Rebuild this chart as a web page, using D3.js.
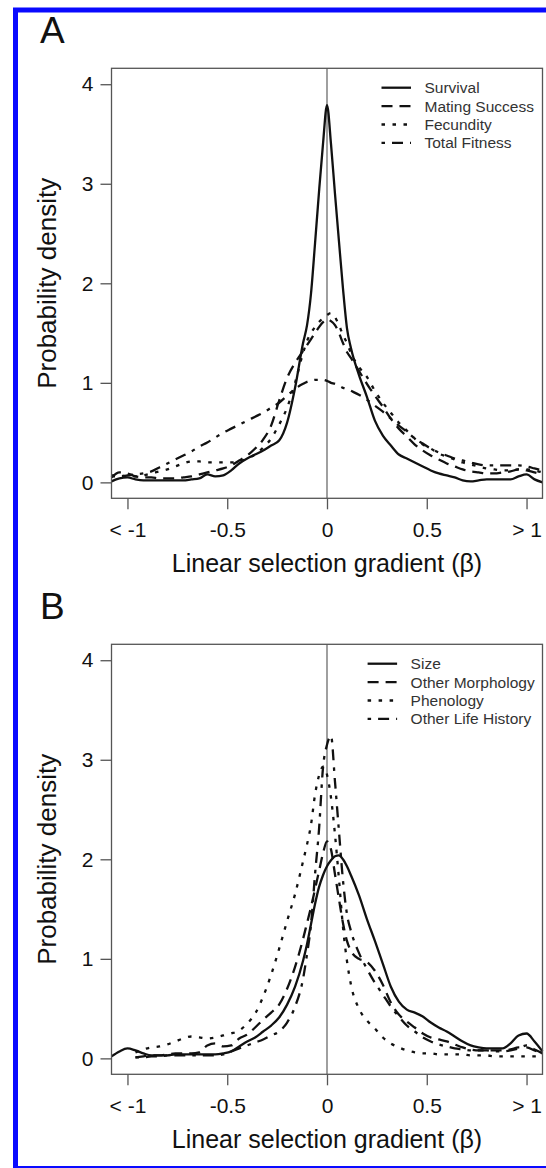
<!DOCTYPE html>
<html>
<head>
<meta charset="utf-8">
<script src="https://cdn.jsdelivr.net/npm/d3@7"></script>
<style>
  html, body { margin: 0; padding: 0; background: #fff; }
  svg { display: block; font-family: "Liberation Sans", Arial, sans-serif; }
</style>
</head>
<body>
<div id="chart"></div>
<script>
var width = 546, height = 1168;

// x positions of the density estimates (beta)
var xGrid = [-1.08,-1.04,-1.0,-0.96,-0.92,-0.88,-0.84,-0.8,-0.76,-0.72,
  -0.68,-0.64,-0.6,-0.56,-0.52,-0.48,-0.44,-0.4,-0.36,-0.32,
  -0.28,-0.24,-0.2,-0.16,-0.12,-0.1,-0.08,-0.06,-0.04,-0.02,
  0,0.02,0.04,0.06,0.08,0.1,0.12,0.16,0.2,0.24,
  0.28,0.32,0.36,0.4,0.44,0.48,0.52,0.56,0.6,0.64,
  0.68,0.72,0.76,0.8,0.84,0.88,0.92,0.96,1.0,1.04,1.08];

// Panel A: fitness components
var survival = [0.01,0.04,0.05,0.03,0.02,0.02,0.02,0.02,0.02,0.02,
  0.03,0.04,0.08,0.06,0.07,0.12,0.19,0.24,0.28,0.32,
  0.37,0.42,0.6,0.95,1.4,1.58,1.9,2.4,2.92,3.4,
  3.79,3.4,2.9,2.42,1.95,1.55,1.35,1.08,0.86,0.62,
  0.47,0.37,0.28,0.24,0.2,0.16,0.12,0.09,0.07,0.05,
  0.02,0.01,0.02,0.03,0.03,0.03,0.03,0.06,0.08,0.03,0.0];
var matingSuccess = [0.05,0.10,0.09,0.06,0.05,0.05,0.04,0.04,0.04,0.05,
  0.06,0.08,0.10,0.12,0.14,0.17,0.22,0.27,0.34,0.43,
  0.57,0.82,1.05,1.2,1.32,1.38,1.44,1.5,1.56,1.61,
  1.64,1.62,1.58,1.5,1.4,1.31,1.25,1.12,0.99,0.87,
  0.76,0.64,0.54,0.46,0.38,0.32,0.27,0.23,0.19,0.16,
  0.13,0.11,0.10,0.09,0.09,0.10,0.11,0.13,0.12,0.10,0.08];
var fecundity = [0.07,0.07,0.06,0.06,0.07,0.09,0.11,0.13,0.16,0.19,
  0.21,0.21,0.20,0.20,0.20,0.20,0.21,0.24,0.28,0.35,
  0.44,0.58,0.75,1.0,1.3,1.42,1.5,1.56,1.61,1.65,
  1.68,1.70,1.66,1.58,1.48,1.4,1.3,1.16,1.06,0.92,
  0.8,0.7,0.6,0.52,0.44,0.38,0.34,0.29,0.26,0.23,
  0.2,0.18,0.16,0.14,0.13,0.12,0.12,0.13,0.13,0.12,0.10];
var totalFitness = [0.06,0.06,0.07,0.08,0.09,0.11,0.15,0.19,0.23,0.27,
  0.31,0.36,0.4,0.45,0.5,0.54,0.58,0.62,0.66,0.7,
  0.75,0.8,0.87,0.94,0.99,1.01,1.02,1.03,1.03,1.03,
  1.02,1.0,0.99,0.97,0.95,0.94,0.92,0.88,0.83,0.77,
  0.71,0.64,0.57,0.51,0.44,0.39,0.34,0.3,0.27,0.24,
  0.22,0.2,0.18,0.17,0.17,0.17,0.17,0.17,0.16,0.14,0.12];

// Panel B: trait types
var size = [0.02,0.07,0.10,0.08,0.05,0.03,0.03,0.03,0.04,0.04,
  0.04,0.04,0.04,0.04,0.05,0.07,0.12,0.17,0.21,0.27,
  0.33,0.41,0.54,0.72,0.98,1.15,1.35,1.55,1.72,1.84,
  1.93,1.99,2.03,2.04,2.0,1.93,1.84,1.64,1.4,1.18,
  0.95,0.72,0.57,0.49,0.46,0.42,0.36,0.31,0.27,0.22,
  0.17,0.13,0.11,0.10,0.10,0.10,0.15,0.23,0.25,0.17,0.07];
var otherMorphology = [null,null,null,0.01,0.02,0.03,0.03,0.04,0.05,0.05,
  0.05,0.06,0.13,0.15,0.12,0.13,0.2,0.24,0.31,0.39,
  0.46,0.54,0.7,0.92,1.2,1.36,1.52,1.7,1.88,2.06,
  2.18,2.1,1.85,1.6,1.36,1.18,1.08,1.0,0.97,0.88,
  0.74,0.56,0.44,0.37,0.31,0.25,0.21,0.19,0.17,0.14,
  0.11,0.09,0.08,0.08,0.08,0.08,0.09,0.11,0.11,0.08,0.05];
var phenology = [null,null,null,0.06,0.09,0.11,0.12,0.14,0.17,0.2,
  0.22,0.21,0.2,0.21,0.23,0.25,0.28,0.35,0.45,0.62,
  0.84,1.1,1.38,1.65,1.98,2.15,2.35,2.65,2.84,2.93,
  2.85,2.62,2.25,1.8,1.32,0.98,0.74,0.5,0.38,0.3,
  0.21,0.15,0.11,0.08,0.06,0.05,0.05,0.04,0.04,0.04,
  0.04,0.03,0.03,0.03,0.02,0.02,0.02,0.02,0.02,0.02,0.02];
var otherLifeHistory = [null,null,null,0.01,0.01,0.02,0.02,0.03,0.03,0.03,
  0.03,0.03,0.03,0.03,0.04,0.07,0.1,0.13,0.16,0.19,
  0.23,0.27,0.36,0.52,0.8,1.05,1.35,1.85,2.3,2.92,
  3.15,3.24,2.78,2.28,1.79,1.45,1.28,1.06,0.9,0.76,
  0.64,0.52,0.42,0.33,0.27,0.21,0.17,0.14,0.12,0.1,
  0.09,0.08,0.08,0.08,0.07,0.07,0.08,0.1,0.13,0.09,0.05];

var xTickValues = [-1, -0.5, 0, 0.5, 1];
var xTickLabels = ["< -1", "-0.5", "0", "0.5", "> 1"];
var yTickValues = [0, 1, 2, 3, 4];

var legendA = ["Survival", "Mating Success", "Fecundity", "Total Fitness"];
var legendB = ["Size", "Other Morphology", "Phenology", "Other Life History"];

// solid, dashed, dotted, dotdash (R lty 1..4)
var dashes = [null, "11,7", "3.5,7.5", "3.5,7,11,7"];

var svg = d3.select("#chart").append("svg")
    .attr("width", width)
    .attr("height", height);

svg.append("rect").attr("width", width).attr("height", height).attr("fill", "#fff");

// blue frame around the figure
svg.append("rect")
    .attr("x", 15.5).attr("y", 10)
    .attr("width", 545).attr("height", 1158.5)
    .attr("fill", "none")
    .attr("stroke", "#0a0aff")
    .attr("stroke-width", 5);

var x = d3.scaleLinear().domain([-1.08, 1.08]).range([111.5, 542.5]);

function drawPanel(top, letter, series, labels, legendLeft) {
  var y = d3.scaleLinear().domain([-0.16, 4.16]).range([top + 430, top]);
  var g = svg.append("g");

  // panel letter
  g.append("text")
      .attr("x", 40).attr("y", top - 25.5)
      .attr("font-size", 37)
      .attr("fill", "#111")
      .text(letter);

  // x = 0 reference line
  g.append("line")
      .attr("x1", x(0)).attr("x2", x(0))
      .attr("y1", top).attr("y2", top + 430)
      .attr("stroke", "#777")
      .attr("stroke-width", 1.4);

  var line = d3.line()
      .defined(function(d) { return d[1] != null; })
      .x(function(d) { return x(d[0]); })
      .y(function(d) { return y(d[1]); })
      .curve(d3.curveMonotoneX);

  series.forEach(function(vals, i) {
    g.append("path")
        .datum(xGrid.map(function(v, j) { return [v, vals[j]]; }))
        .attr("d", line)
        .attr("fill", "none")
        .attr("stroke", "#111")
        .attr("stroke-width", 2.3)
        .attr("stroke-dasharray", dashes[i]);
  });

  // box
  g.append("rect")
      .attr("x", 111.5).attr("y", top)
      .attr("width", 431).attr("height", 430)
      .attr("fill", "none")
      .attr("stroke", "#555")
      .attr("stroke-width", 1.3);

  var xAxis = g.append("g")
      .attr("transform", "translate(0," + (top + 430) + ")")
      .call(d3.axisBottom(x)
        .tickValues(xTickValues)
        .tickFormat(function(d, i) { return xTickLabels[i]; })
        .tickSize(11).tickSizeOuter(0).tickPadding(13));

  var yAxis = g.append("g")
      .attr("transform", "translate(111.5,0)")
      .call(d3.axisLeft(y)
        .tickValues(yTickValues)
        .tickFormat(d3.format("d"))
        .tickSize(11).tickSizeOuter(0).tickPadding(7));

  [xAxis, yAxis].forEach(function(a) {
    a.select(".domain").remove();
    a.selectAll("line").attr("stroke", "#555").attr("stroke-width", 1.3);
    a.selectAll("text")
        .attr("font-size", 21)
        .attr("font-family", "'Liberation Sans', Arial, sans-serif")
        .attr("fill", "#111");
  });

  // axis titles
  g.append("text")
      .attr("x", x(0)).attr("y", top + 503.3)
      .attr("text-anchor", "middle")
      .attr("font-size", 25)
      .attr("fill", "#111")
      .text("Linear selection gradient (\u03b2)");

  g.append("text")
      .attr("transform", "translate(55.5," + (top + 215) + ") rotate(-90)")
      .attr("text-anchor", "middle")
      .attr("font-size", 26)
      .attr("fill", "#111")
      .text("Probability density");

  // legend, no box
  var leg = g.append("g");
  labels.forEach(function(lab, i) {
    var ly = top + 19.4 + i * 18.4;
    leg.append("line")
        .attr("x1", legendLeft).attr("x2", legendLeft + 29.5)
        .attr("y1", ly).attr("y2", ly)
        .attr("stroke", "#111")
        .attr("stroke-width", 2.3)
        .attr("stroke-dasharray", dashes[i]);
    leg.append("text")
        .attr("x", legendLeft + 43).attr("y", ly)
        .attr("dy", "0.35em")
        .attr("font-size", 15.5)
        .attr("fill", "#333")
        .text(lab);
  });
}

drawPanel(68.3, "A", [survival, matingSuccess, fecundity, totalFitness], legendA, 381.5);
drawPanel(644.3, "B", [size, otherMorphology, phenology, otherLifeHistory], legendB, 367.6);
</script>
</body>
</html>
